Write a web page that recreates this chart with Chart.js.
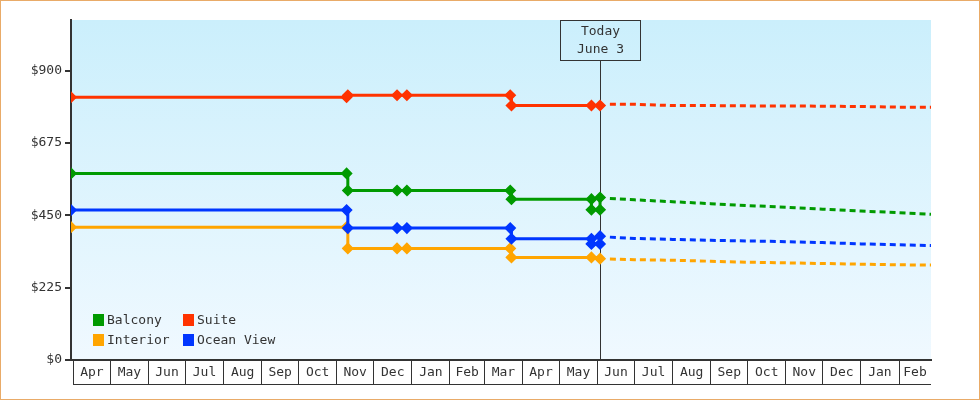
<!DOCTYPE html>
<html>
<head>
<meta charset="utf-8">
<style>
  html, body { margin: 0; padding: 0; background: #fff; }
  canvas { display: block; }
</style>
<script src="https://cdn.jsdelivr.net/npm/chart.js@4"></script>
</head>
<body>
<canvas id="chart" width="980" height="400"></canvas>
<script>
(function () {
  'use strict';

  // month boxes along the bottom
  const MONTHS = ['Apr', 'May', 'Jun', 'Jul', 'Aug', 'Sep', 'Oct', 'Nov', 'Dec', 'Jan', 'Feb', 'Mar',
                  'Apr', 'May', 'Jun', 'Jul', 'Aug', 'Sep', 'Oct', 'Nov', 'Dec', 'Jan', 'Feb'];
  const FIRST_MONTH = '2024-04-01';
  const RANGE = ['2024-03-30', '2026-02-27'];
  const Y_TICKS = [0, 225, 450, 675, 900];
  const Y_MAX = 1057;
  const TODAY = '2025-06-03';
  const TODAY_TEXT = ['Today', 'June 3'];

  // observed prices
  const DATES_A = ['2024-03-30', '2024-11-09', '2024-11-10', '2024-12-20', '2024-12-28', '2025-03-22', '2025-03-23', '2025-05-27', '2025-05-27', '2025-06-03', '2025-06-03'];
  const DATES_B = ['2024-03-30', '2024-11-09', '2024-11-10', '2024-12-20', '2024-12-28', '2025-03-22', '2025-03-23', '2025-05-27', '2025-06-03'];
  const BALCONY = [580, 580, 527, 527, 527, 527, 500, 500, 467, 467, 505];
  const OCEAN_VIEW = [466, 466, 410, 410, 410, 410, 377, 377, 361, 361, 385];
  const SUITE = [817, 817, 823, 823, 823, 823, 791, 791, 791];
  const INTERIOR = [413, 413, 347, 347, 347, 347, 319, 319, 315];

  // forecast (dashed)
  const FC_DATES = ['2025-06-11', '2025-07-01', '2025-08-01', '2025-09-01', '2025-10-01', '2025-11-01', '2025-12-01', '2026-01-01', '2026-02-01', '2026-02-27'];
  const FC_BALCONY = [502, 498, 492, 486, 480, 475, 469, 463, 458, 453];
  const FC_SUITE = [795, 795, 791, 791, 790, 790, 789, 788, 786, 786];
  const FC_INTERIOR = [314, 312, 310, 307, 304, 302, 300, 298, 296, 295];
  const FC_OCEAN_VIEW = [382, 378, 375, 372, 370, 368, 365, 361, 358, 356];

  const COLORS = { Balcony: '#009a00', Suite: '#ff3300', Interior: '#ffa500', 'Ocean View': '#0036ff' };
  const LEGEND_ORDER = ['Balcony', 'Suite', 'Interior', 'Ocean View'];

  const INK = '#333333';
  const FONT = { family: '"DejaVu Sans Mono", monospace', size: 13 };

  const BASE = Date.UTC(2024, 3, 1);
  function day(s) {
    const [y, m, d] = s.split('-').map(Number);
    return (Date.UTC(y, m - 1, d) - BASE) / 86400000;
  }
  function pts(dates, vals) { return dates.map((d, i) => ({ x: day(d), y: vals[i] })); }

  // month start days, one per label
  const fm = FIRST_MONTH.split('-').map(Number);
  const MONTH_STARTS = MONTHS.map((_, i) => (Date.UTC(fm[0], fm[1] - 1 + i, 1) - BASE) / 86400000);

  function actual(label, dates, vals, order) {
    const c = COLORS[label];
    return {
      label, data: pts(dates, vals), order,
      borderColor: c, backgroundColor: c, borderWidth: 3, stepped: true,
      pointStyle: 'rectRot', pointRadius: 5, pointBorderWidth: 1.5,
      pointBackgroundColor: c, pointBorderColor: c,
    };
  }
  function forecast(label, vals, order) {
    const c = COLORS[label];
    return {
      label: label + ' forecast', data: pts(FC_DATES, vals), order,
      borderColor: c, borderWidth: 3, borderDash: [6, 4], pointRadius: 0,
    };
  }

  const bgPlugin = {
    id: 'bg',
    beforeDraw(chart) {
      const { ctx, chartArea: a } = chart;
      ctx.save();
      const g = ctx.createLinearGradient(0, a.top, 0, a.bottom);
      g.addColorStop(0, '#cbeffc');
      g.addColorStop(1, '#f0f9ff');
      ctx.fillStyle = g;
      ctx.fillRect(a.left, a.top, a.right - a.left, a.bottom - a.top);
      ctx.strokeStyle = '#e9ab68';
      ctx.lineWidth = 1;
      ctx.strokeRect(0.5, 0.5, chart.width - 1, chart.height - 1);
      ctx.restore();
    },
  };

  const todayPlugin = {
    id: 'today',
    beforeDatasetsDraw(chart) {
      const { ctx, chartArea: a, scales } = chart;
      const x = Math.round(scales.x.getPixelForValue(day(TODAY))) + 0.5;
      ctx.save();
      ctx.strokeStyle = INK;
      ctx.lineWidth = 1;
      ctx.beginPath();
      ctx.moveTo(x, a.top + 40);
      ctx.lineTo(x, a.bottom);
      ctx.stroke();
      ctx.strokeRect(x - 40, a.top + 0.5, 80, 40);
      ctx.fillStyle = INK;
      ctx.font = FONT.size + 'px ' + FONT.family;
      ctx.textAlign = 'center';
      ctx.textBaseline = 'middle';
      ctx.fillText(TODAY_TEXT[0], x, a.top + 12);
      ctx.fillText(TODAY_TEXT[1], x, a.top + 30);
      ctx.restore();
    },
  };

  const overlayPlugin = {
    id: 'overlay',
    afterDraw(chart) {
      const { ctx, chartArea: a, scales } = chart;
      const xs = scales.x;
      ctx.save();
      ctx.font = FONT.size + 'px ' + FONT.family;
      ctx.fillStyle = INK;
      ctx.textAlign = 'center';
      ctx.textBaseline = 'middle';
      // month labels centred in their boxes
      MONTHS.forEach((m, i) => {
        const l = xs.getPixelForValue(MONTH_STARTS[i]);
        const r = i + 1 < MONTHS.length ? xs.getPixelForValue(MONTH_STARTS[i + 1]) : a.right;
        ctx.fillText(m, (l + r) / 2, a.bottom + 13);
      });
      ctx.strokeStyle = INK;
      ctx.lineWidth = 1;
      ctx.beginPath();
      ctx.moveTo(Math.round(xs.getPixelForValue(MONTH_STARTS[0])), a.bottom + 24.5);
      ctx.lineTo(a.right, a.bottom + 24.5);
      ctx.stroke();

      // legend, 2 x 2 inside the plot
      ctx.textAlign = 'left';
      LEGEND_ORDER.forEach((name, i) => {
        const cx = a.left + 22 + (i % 2) * 90;
        const cy = a.bottom - 46 + Math.floor(i / 2) * 20;
        ctx.fillStyle = COLORS[name];
        ctx.fillRect(cx, cy, 11, 12);
        ctx.fillStyle = INK;
        ctx.fillText(name, cx + 14, cy + 6.5);
      });
      ctx.restore();
    },
  };

  new Chart(document.getElementById('chart'), {
    type: 'line',
    data: {
      datasets: [
        actual('Ocean View', DATES_A, OCEAN_VIEW, 1),
        actual('Balcony', DATES_A, BALCONY, 2),
        actual('Suite', DATES_B, SUITE, 3),
        actual('Interior', DATES_B, INTERIOR, 4),
        forecast('Ocean View', FC_OCEAN_VIEW, 5),
        forecast('Balcony', FC_BALCONY, 6),
        forecast('Suite', FC_SUITE, 7),
        forecast('Interior', FC_INTERIOR, 8),
      ],
    },
    options: {
      responsive: false,
      animation: false,
      devicePixelRatio: 1,
      layout: { padding: { top: 20, right: 49, left: 0, bottom: 0 } },
      plugins: { legend: { display: false }, tooltip: { enabled: false } },
      scales: {
        x: {
          type: 'linear',
          min: day(RANGE[0]), max: day(RANGE[1]),
          afterBuildTicks: s => { s.ticks = MONTH_STARTS.map(v => ({ value: v })); },
          afterFit: s => { s.height = 40; },
          ticks: { display: false },
          grid: { drawOnChartArea: false, drawTicks: true, tickLength: 24, color: INK, lineWidth: 1 },
          border: { color: INK, width: 2 },
        },
        y: {
          min: 0, max: Y_MAX,
          afterBuildTicks: s => { s.ticks = Y_TICKS.map(v => ({ value: v })); },
          afterFit: s => { s.width = 71; },
          ticks: { color: INK, font: FONT, padding: 3, callback: v => '$' + v },
          grid: { drawOnChartArea: false, drawTicks: true, tickLength: 6, color: INK, lineWidth: 2 },
          border: { color: INK, width: 2 },
        },
      },
    },
    plugins: [bgPlugin, todayPlugin, overlayPlugin],
  });
})();
</script>
</body>
</html>
